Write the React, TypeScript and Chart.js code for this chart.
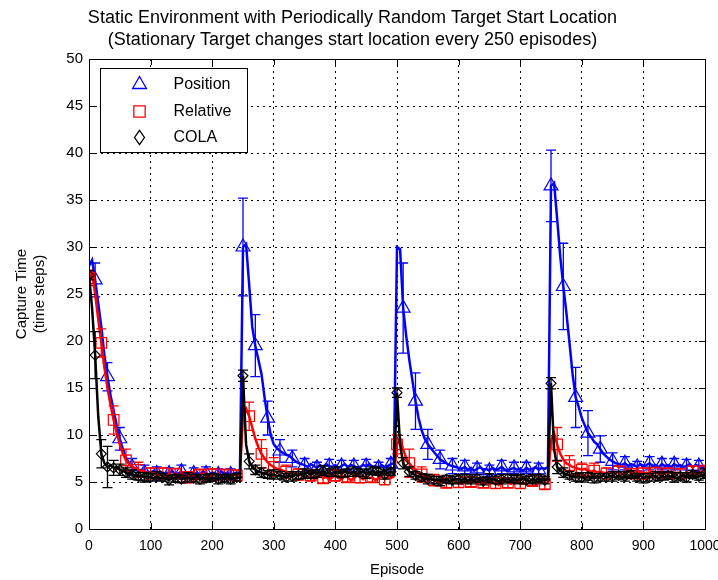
import React, { useEffect, useRef } from 'react';
import { Chart, registerables } from 'chart.js';
Chart.register(...registerables);

const FONT = '"Liberation Sans Narrow", "Arial Narrow", "Liberation Sans", Arial, sans-serif';

const TITLE = [
  'Static Environment with Periodically Random Target Start Location',
  '(Stationary Target changes start location every 250 episodes)',
];
const X_TITLE = 'Episode';
const Y_TITLE = ['Capture Time', '(time steps)'];
const SERIES_NAMES = ['Position', 'Relative', 'COLA'];

// episode grid (every 5 episodes)
const EPISODES = Array.from({ length: 201 }, (_, i) => i * 5);

const POSITION = [
  28.0, 28.6, 26.5, 24.0, 21.5, 18.5, 16.2, 14.2, 12.6, 11.0, 9.6, 8.5, 7.6, 7.0, 6.6, 6.4, 6.2, 6.3, 6.0, 6.1,
  6.0, 6.2, 5.9, 6.1, 5.8, 6.0, 5.9, 6.2, 5.8, 5.9, 6.1, 5.8, 6.0, 5.7, 5.9, 6.0, 5.8, 6.1, 5.9, 5.8, 6.0, 5.9, 5.8, 6.1, 5.9, 6.0, 5.8, 5.9, 6.0, 5.9,
  30.0, 30.3, 26.0, 21.5, 19.5, 18.0, 16.5, 14.0, 11.8, 10.0, 9.0, 8.6, 8.3, 8.1, 7.9, 7.8, 7.5, 7.2, 7.0, 6.9,
  6.8, 6.6, 6.9, 6.7, 6.5, 6.8, 6.6, 6.9, 6.7, 6.6, 6.8, 6.5, 6.7, 6.9, 6.6, 6.8, 6.7, 6.5, 6.6, 6.8, 6.7, 6.9, 6.6, 6.7, 6.5, 6.8, 6.6, 6.7, 6.9, 7.0,
  30.0, 29.8, 23.5, 20.5, 18.0, 15.8, 13.6, 11.8, 10.5, 9.6, 9.0, 8.6, 8.2, 7.8, 7.4, 7.2, 7.0, 6.8, 6.7, 6.6,
  6.5, 6.4, 6.6, 6.3, 6.5, 6.2, 6.4, 6.6, 6.3, 6.4, 6.2, 6.5, 6.3, 6.4, 6.6, 6.3, 6.2, 6.4, 6.5, 6.3, 6.4, 6.2, 6.5, 6.3, 6.4, 6.6, 6.3, 6.5, 6.4, 6.6,
  36.5, 36.8, 33.0, 29.0, 25.8, 23.0, 19.8, 16.5, 14.0, 13.0, 11.8, 11.0, 10.2, 9.8, 9.3, 9.0, 8.5, 8.0, 7.7, 7.4,
  7.2, 7.0, 6.9, 6.8, 7.0, 6.7, 6.9, 6.8, 6.6, 6.9, 6.7, 6.8, 7.0, 6.7, 6.8, 6.6, 6.9, 6.7, 6.8, 6.6, 6.9, 6.7, 6.8, 6.6, 6.7, 6.9, 6.6, 6.8, 6.7, 6.5, 6.6,
];

const RELATIVE = [
  26.7, 27.3, 25.0, 22.3, 19.8, 17.2, 15.0, 13.2, 11.6, 10.2, 9.0, 8.0, 7.3, 6.9, 6.6, 6.5, 6.3, 6.2, 6.1, 6.0,
  5.9, 6.0, 5.8, 5.7, 5.9, 5.6, 5.8, 5.7, 5.9, 5.6, 5.8, 5.7, 5.5, 5.8, 5.7, 5.6, 5.8, 5.9, 5.7, 5.6, 5.8, 5.7, 5.9, 5.6, 5.8, 5.7, 5.6, 5.8, 5.7, 5.8,
  12.0, 12.8, 12.0, 10.8, 9.6, 8.7, 8.0, 7.5, 7.1, 6.8, 6.6, 6.4, 6.3, 6.2, 6.1, 6.0, 5.9, 6.0, 5.8, 5.7,
  5.6, 5.4, 5.7, 5.3, 5.5, 5.8, 5.4, 5.6, 5.2, 5.5, 5.7, 5.4, 5.3, 5.6, 5.5, 5.2, 5.4, 5.7, 5.5, 5.3, 5.6, 5.4, 5.5, 5.2, 5.4, 5.6, 5.3, 5.5, 5.4, 5.6,
  9.0, 9.6, 8.5, 7.5, 7.0, 6.6, 6.3, 6.0, 5.8, 5.6, 5.4, 5.3, 5.2, 5.1, 5.0, 5.1, 4.9, 5.0, 5.1, 4.9,
  5.0, 4.8, 5.1, 4.9, 5.0, 5.2, 4.8, 5.0, 4.9, 5.1, 4.8, 5.0, 4.9, 4.7, 5.0, 5.1, 4.9, 4.8, 5.0, 5.2, 4.9, 4.8, 5.0, 4.9, 5.1, 4.8, 4.9, 5.0, 4.8, 5.0,
  9.5, 10.2, 9.0, 8.0, 7.4, 7.0, 6.8, 6.6, 6.5, 6.4, 6.3, 6.4, 6.2, 6.1, 6.2, 6.0, 6.1, 6.0, 5.9, 6.0,
  6.0, 5.9, 6.1, 5.8, 6.0, 6.2, 5.9, 6.0, 5.8, 6.1, 5.9, 6.0, 5.8, 6.1, 6.0, 5.9, 5.7, 6.0, 5.9, 6.1, 5.8, 6.0, 5.9, 5.8, 6.0, 5.9, 6.1, 5.8, 6.0, 6.1, 6.2,
];

const COLA = [
  27.0, 23.5, 18.5, 12.0, 8.0, 7.0, 6.6, 6.8, 6.5, 6.6, 6.3, 6.2, 6.0, 5.9, 5.8, 5.7, 5.6, 5.7, 5.5, 5.6,
  5.5, 5.4, 5.6, 5.3, 5.5, 5.4, 5.2, 5.5, 5.4, 5.6, 5.3, 5.4, 5.5, 5.3, 5.4, 5.6, 5.3, 5.5, 5.4, 5.2, 5.5, 5.4, 5.3, 5.5, 5.4, 5.6, 5.3, 5.4, 5.5, 5.4,
  16.3, 9.0, 7.2, 6.6, 6.3, 6.1, 6.0, 5.9, 5.8, 5.7, 5.8, 5.6, 5.7, 5.6, 5.5, 5.7, 5.6, 5.8, 5.7, 5.9,
  5.9, 6.0, 5.8, 6.1, 5.9, 6.0, 6.2, 5.9, 6.0, 5.8, 6.1, 6.0, 5.9, 6.2, 6.0, 5.9, 6.1, 5.8, 6.0, 6.1, 5.9, 6.0, 6.2, 5.9, 6.1, 6.0, 5.8, 6.0, 6.1, 5.9,
  14.5, 9.0, 7.0, 6.5, 6.1, 5.9, 5.7, 5.6, 5.5, 5.4, 5.3, 5.4, 5.2, 5.3, 5.1, 5.2, 5.3, 5.1, 5.2, 5.3,
  5.3, 5.2, 5.4, 5.1, 5.3, 5.2, 5.4, 5.3, 5.1, 5.2, 5.4, 5.3, 5.2, 5.0, 5.3, 5.2, 5.4, 5.1, 5.3, 5.2, 5.3, 5.4, 5.2, 5.1, 5.3, 5.2, 5.4, 5.3, 5.2, 5.3,
  15.5, 8.5, 6.6, 6.2, 6.0, 5.8, 5.7, 5.6, 5.5, 5.6, 5.5, 5.4, 5.6, 5.5, 5.4, 5.6, 5.5, 5.7, 5.5, 5.6,
  5.6, 5.5, 5.7, 5.4, 5.6, 5.5, 5.8, 5.6, 5.5, 5.7, 5.4, 5.6, 5.5, 5.7, 5.6, 5.4, 5.6, 5.5, 5.7, 5.6, 5.5, 5.4, 5.6, 5.7, 5.5, 5.6, 5.8, 5.5, 5.6, 5.7, 5.9,
];

// marker / error-bar episodes
const POSITION_MARK_EP = Array.from({ length: 50 }, (_, i) => 10 + i * 20);
const RELATIVE_MARK_EP = Array.from({ length: 51 }, (_, i) => i * 20);
const COLA_MARK_EP = Array.from({ length: 101 }, (_, i) => i * 10);

// half-length of error bars
const POSITION_ERR = [
  1.8, 1.5, 1.2, 0.9, 0.8, 0.7, 0.6, 0.7, 0.6, 0.7,
  0.6, 0.6, 5.2, 3.3, 1.8, 1.2, 0.9, 0.7, 0.6, 0.7,
  0.6, 0.6, 0.7, 0.6, 0.6, 4.8, 3.0, 1.6, 1.0, 0.8,
  0.7, 0.6, 0.6, 0.7, 0.6, 0.6, 0.7, 3.8, 4.6, 3.2,
  2.4, 1.4, 0.9, 0.7, 0.6, 0.7, 0.6, 0.6, 0.7, 0.6,
];
const RELATIVE_ERR = [
  0.8, 1.5, 1.5, 1.2, 0.8, 0.6, 0.6, 0.5, 0.6, 0.5,
  0.6, 0.5, 0.6, 1.5, 1.5, 1.0, 0.7, 0.6, 0.6, 0.5,
  0.6, 0.5, 0.6, 0.5, 0.6, 1.0, 1.5, 0.8, 0.6, 0.5,
  0.6, 0.5, 0.5, 0.6, 0.5, 0.6, 0.5, 0.6, 1.8, 1.0,
  0.7, 0.8, 0.6, 0.6, 0.5, 0.6, 0.5, 0.6, 0.5, 0.6,
  0.5,
];
const COLA_ERR = [
  0.5, 2.5, 1.5, 2.2, 0.8, 0.6, 0.5, 0.5, 0.4, 0.5,
  0.4, 0.5, 0.4, 0.5, 0.4, 0.4, 0.5, 0.4, 0.5, 0.4, 0.4, 0.5, 0.4, 0.5, 0.4,
  0.6, 0.8, 0.5,
  0.5, 0.4, 0.5, 0.4, 0.4, 0.5, 0.4, 0.5, 0.4, 0.4, 0.5, 0.4, 0.5, 0.4, 0.4, 0.5, 0.4, 0.5, 0.4, 0.4, 0.5, 0.4,
  0.5, 0.6,
  0.5, 0.4, 0.4, 0.5, 0.4, 0.5, 0.4, 0.4, 0.5, 0.4, 0.5, 0.4, 0.4, 0.5, 0.4, 0.5, 0.4, 0.4, 0.5, 0.4, 0.5, 0.4, 0.4,
  0.6, 0.7,
  0.5, 0.4, 0.4, 0.5, 0.4, 0.5, 0.4, 0.4, 0.5, 0.4, 0.5, 0.4, 0.4, 0.5, 0.4, 0.5, 0.4, 0.4, 0.5, 0.4, 0.5, 0.4, 0.4, 0.5,
];

const COLORS = ['#0000ff', '#ff0000', '#000000'];
const STYLES = ['triangle', 'rect', 'rectRot'];
const RADII = [8, 7.5, 5];

function drawMarker(ctx: CanvasRenderingContext2D, style: string, x: number, y: number, r: number) {
  ctx.beginPath();
  if (style === 'triangle') {
    const w = r * Math.sqrt(3) / 2;
    ctx.moveTo(x, y - r);
    ctx.lineTo(x + w, y + r / 2);
    ctx.lineTo(x - w, y + r / 2);
    ctx.closePath();
  } else if (style === 'rect') {
    const s = r * Math.SQRT1_2;
    ctx.rect(x - s, y - s, 2 * s, 2 * s);
  } else {
    ctx.moveTo(x, y - r * 1.3);
    ctx.lineTo(x + r * 0.9, y);
    ctx.lineTo(x, y + r * 1.3);
    ctx.lineTo(x - r * 0.9, y);
    ctx.closePath();
  }
  ctx.stroke();
}

export default function App() {
  const ref = useRef<HTMLCanvasElement>(null);

  useEffect(() => {
    const canvas = ref.current;
    if (!canvas) return;
    Chart.defaults.font.family = FONT;
    Chart.defaults.color = '#000';

    const seriesValues = [POSITION, RELATIVE, COLA];
    const markEps = [POSITION_MARK_EP, RELATIVE_MARK_EP, COLA_MARK_EP];
    const errs = [POSITION_ERR, RELATIVE_ERR, COLA_ERR];

    const datasets = SERIES_NAMES.map((name, s) => {
      const marks = new Set(markEps[s]);
      return {
        label: name,
        data: EPISODES.map((e, i) => ({ x: e, y: seriesValues[s][i] })),
        borderColor: COLORS[s],
        backgroundColor: COLORS[s],
        borderWidth: 2.5,
        tension: 0,
        pointStyle: STYLES[s],
        pointRadius: (c: any) => (c.raw && marks.has(c.raw.x) ? RADII[s] : 0),
        pointHoverRadius: 0,
        pointBorderColor: COLORS[s],
        pointBackgroundColor: 'rgba(0,0,0,0)',
        pointBorderWidth: 1.2,
        order: 3 - s,
        errMarks: markEps[s],
        errVals: errs[s],
      } as any;
    });

    const errorBarPlugin = {
      id: 'errorBars',
      afterDatasetDraw(chart: any, args: any) {
        const ds = chart.data.datasets[args.index];
        if (!ds || !ds.errMarks) return;
        const { ctx, chartArea, scales } = chart;
        const xs = scales.x;
        const ys = scales.y;
        const lookup = new Map<number, number>();
        ds.data.forEach((p: any) => lookup.set(p.x, p.y));
        ctx.save();
        ctx.beginPath();
        ctx.rect(chartArea.left, chartArea.top, chartArea.right - chartArea.left, chartArea.bottom - chartArea.top);
        ctx.clip();
        ctx.strokeStyle = ds.borderColor;
        ctx.lineWidth = 1.3;
        ctx.beginPath();
        ds.errMarks.forEach((ep: number, k: number) => {
          const v = lookup.get(ep);
          if (v === undefined) return;
          const e = ds.errVals[k];
          const px = xs.getPixelForValue(ep);
          const y1 = ys.getPixelForValue(v - e);
          const y2 = ys.getPixelForValue(v + e);
          ctx.moveTo(px, y1);
          ctx.lineTo(px, y2);
          ctx.moveTo(px - 5, y1);
          ctx.lineTo(px + 5, y1);
          ctx.moveTo(px - 5, y2);
          ctx.lineTo(px + 5, y2);
        });
        ctx.stroke();
        ctx.restore();
      },
    };

    const framePlugin = {
      id: 'frame',
      afterDraw(chart: any) {
        const { ctx, chartArea: a, scales } = chart;
        ctx.save();
        ctx.strokeStyle = '#000';
        ctx.lineWidth = 1;
        ctx.setLineDash([]);
        ctx.strokeRect(Math.round(a.left) + 0.5, Math.round(a.top) + 0.5, Math.round(a.right - a.left), Math.round(a.bottom - a.top));
        const tl = 6;
        ctx.beginPath();
        scales.x.ticks.forEach((t: any) => {
          const px = Math.round(scales.x.getPixelForValue(t.value)) + 0.5;
          ctx.moveTo(px, a.bottom);
          ctx.lineTo(px, a.bottom - tl);
          ctx.moveTo(px, a.top);
          ctx.lineTo(px, a.top + tl);
        });
        scales.y.ticks.forEach((t: any) => {
          const py = Math.round(scales.y.getPixelForValue(t.value)) + 0.5;
          ctx.moveTo(a.left, py);
          ctx.lineTo(a.left + tl, py);
          ctx.moveTo(a.right, py);
          ctx.lineTo(a.right - tl, py);
        });
        ctx.stroke();

        // legend box (inside top-left of the axes)
        const bx = Math.round(a.left + 11) + 0.5;
        const by = Math.round(a.top + 9) + 0.5;
        const bw = 147;
        const bh = 84;
        ctx.fillStyle = '#fff';
        ctx.fillRect(bx, by, bw, bh);
        ctx.strokeStyle = '#000';
        ctx.strokeRect(bx, by, bw, bh);
        ctx.font = '16px ' + FONT;
        ctx.textBaseline = 'middle';
        ctx.textAlign = 'left';
        const rows = [16, 43, 69];
        SERIES_NAMES.forEach((name, s) => {
          const cy = by + rows[s];
          ctx.strokeStyle = COLORS[s];
          ctx.lineWidth = 1.3;
          drawMarker(ctx, STYLES[s], bx + 39, cy, s === 2 ? 5.5 : 8);
          ctx.fillStyle = '#000';
          ctx.fillText(name, bx + 73, cy);
        });
        ctx.restore();
      },
    };

    const chart = new Chart(canvas, {
      type: 'line',
      data: { datasets },
      options: {
        responsive: false,
        animation: false,
        devicePixelRatio: 1,
        events: [],
        layout: { padding: { left: 0, right: 13, top: 0, bottom: 0 } },
        plugins: {
          legend: { display: false },
          tooltip: { enabled: false },
          title: {
            display: true,
            text: TITLE,
            color: '#000',
            font: { size: 18, weight: 'normal', lineHeight: 22 / 18, family: FONT },
            padding: { top: 7, bottom: 8 },
          },
        },
        scales: {
          x: {
            type: 'linear',
            min: 0,
            max: 1000,
            ticks: {
              stepSize: 100, color: '#000', font: { size: 14 }, padding: 9, maxRotation: 0, autoSkip: false,
              callback: (v: any) => String(v),
            },
            grid: { color: '#000', lineWidth: 1, drawTicks: false },
            border: { display: false, dash: [2, 4] },
            title: { display: true, text: X_TITLE, color: '#000', font: { size: 15, lineHeight: 1.2 }, padding: { top: 0, bottom: 1 } },
            afterFit: (s: any) => { s.height = 51; s.paddingLeft = 0; s.paddingRight = 0; },
          },
          y: {
            type: 'linear',
            min: 0,
            max: 50,
            ticks: { stepSize: 5, color: '#000', font: { size: 15 }, padding: 6, callback: (v: any) => String(v) },
            grid: { color: '#000', lineWidth: 1, drawTicks: false },
            border: { display: false, dash: [2, 4] },
            title: { display: true, text: Y_TITLE, color: '#000', font: { size: 15, lineHeight: 1.2 }, padding: { top: 13, bottom: 0 } },
            afterFit: (s: any) => { s.width = 89; },
          },
        },
      },
      plugins: [errorBarPlugin, framePlugin],
    } as any);

    return () => chart.destroy();
  }, []);

  return (
    <div style={{ position: 'fixed', left: 0, top: 0, width: 718, height: 580, background: '#fff' }}>
      <canvas ref={ref} width={718} height={580} />
    </div>
  );
}
